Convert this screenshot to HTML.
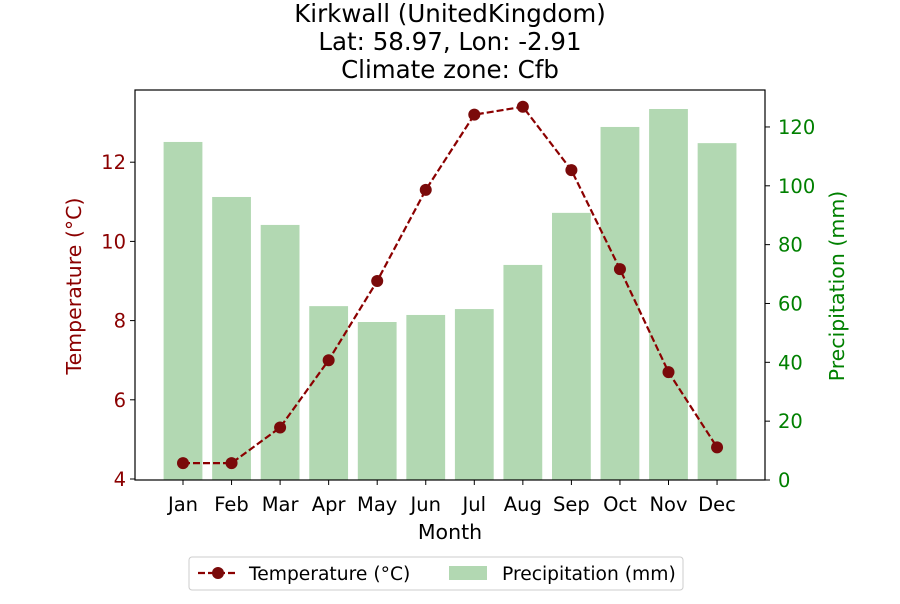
<!DOCTYPE html>
<html><head><meta charset="utf-8"><style>
body{margin:0;background:#fff;font-family:"DejaVu Sans","Liberation Sans",sans-serif}
</style></head><body>
<svg id="chart" width="900" height="600" xmlns="http://www.w3.org/2000/svg" font-family="DejaVu Sans, Liberation Sans, sans-serif">
<g font-size="24.5" text-anchor="middle" fill="#000">
<text x="450" y="22">Kirkwall (UnitedKingdom)</text>
<text x="450" y="50">Lat: 58.97, Lon: -2.91</text>
<text x="450" y="78">Climate zone: Cfb</text>
</g>
<g id="bars"></g>
<g id="line"></g>
<rect x="135" y="90" width="630" height="390" fill="none" stroke="#000" stroke-width="1.2"/>
<g id="axes"></g>
<text x="450" y="539" font-size="20.5" text-anchor="middle">Month</text>
<text transform="translate(81,286) rotate(-90)" font-size="20.5" text-anchor="middle" fill="#8b0000">Temperature (°C)</text>
<text transform="translate(844,286) rotate(-90)" font-size="20.5" text-anchor="middle" fill="#008000">Precipitation (mm)</text>
<g>
<rect x="189" y="557" width="494" height="33" rx="3" fill="#fff" stroke="#ccc"/>
<g>
<line x1="198" y1="573" x2="238" y2="573" stroke="#8b0000" stroke-width="2.2" stroke-dasharray="7,3"/>
<circle cx="218" cy="573" r="6" fill="#7a0a0a"/>
<text x="249" y="580" font-size="18.7">Temperature (°C)</text>
</g>
<g>
<rect x="449" y="566" width="38" height="14" fill="#b2d8b2"/>
<text x="502" y="580" font-size="18.7">Precipitation (mm)</text>
</g>
</g>
</svg>
<script>
const months=["Jan","Feb","Mar","Apr","May","Jun","Jul","Aug","Sep","Oct","Nov","Dec"];
const temperature=[4.4,4.4,5.3,7.0,9.0,11.3,13.2,13.4,11.8,9.3,6.7,4.8];
const precipitation=[114.9,96.2,86.7,59.1,53.7,56.1,58.1,73.1,90.8,120,126.1,114.5];
const tempTicks=[4,6,8,10,12];
const precipTicks=[0,20,40,60,80,100,120];
const NS="http://www.w3.org/2000/svg";
const step=48.55;
const xS=i=>183+i*step;
const yT=v=>479-(v-4)*39.6;
const yP=v=>480-v*2.942;
function mk(tag,attrs,parent){const e=document.createElementNS(NS,tag);for(const k in attrs)e.setAttribute(k,attrs[k]);parent.appendChild(e);return e;}
const bars=document.getElementById('bars'),line=document.getElementById('line'),axes=document.getElementById('axes');
precipitation.forEach((p,i)=>{
const r=mk('rect',{x:xS(i)-19.4,y:yP(p),width:38.8,height:480-yP(p),fill:'#b2d8b2'},bars);


});
const pl=mk('polyline',{points:temperature.map((t,i)=>xS(i)+','+yT(t)).join(' '),fill:'none',stroke:'#8b0000','stroke-width':2.2,'stroke-dasharray':'7,3'},line);


temperature.forEach((t,i)=>{
const c=mk('circle',{cx:xS(i),cy:yT(t),r:6,fill:'#7a0a0a'},line);


});
months.forEach((m,i)=>{
mk('line',{x1:xS(i),x2:xS(i),y1:480,y2:485,stroke:'#000'},axes);
const t=mk('text',{x:xS(i),y:511,'font-size':19.5,'text-anchor':'middle'},axes);t.textContent=m;


});
tempTicks.forEach(v=>{
mk('line',{x1:130,x2:135,y1:yT(v),y2:yT(v),stroke:'#000'},axes);
const t=mk('text',{x:126,y:yT(v)+7,'font-size':19.5,'text-anchor':'end',fill:'#8b0000'},axes);t.textContent=v;


});
precipTicks.forEach(v=>{
mk('line',{x1:765,x2:770,y1:yP(v),y2:yP(v),stroke:'#000'},axes);
const t=mk('text',{x:778,y:yP(v)+7,'font-size':19.5,fill:'#008000'},axes);t.textContent=v;


});
</script>
</body></html>
